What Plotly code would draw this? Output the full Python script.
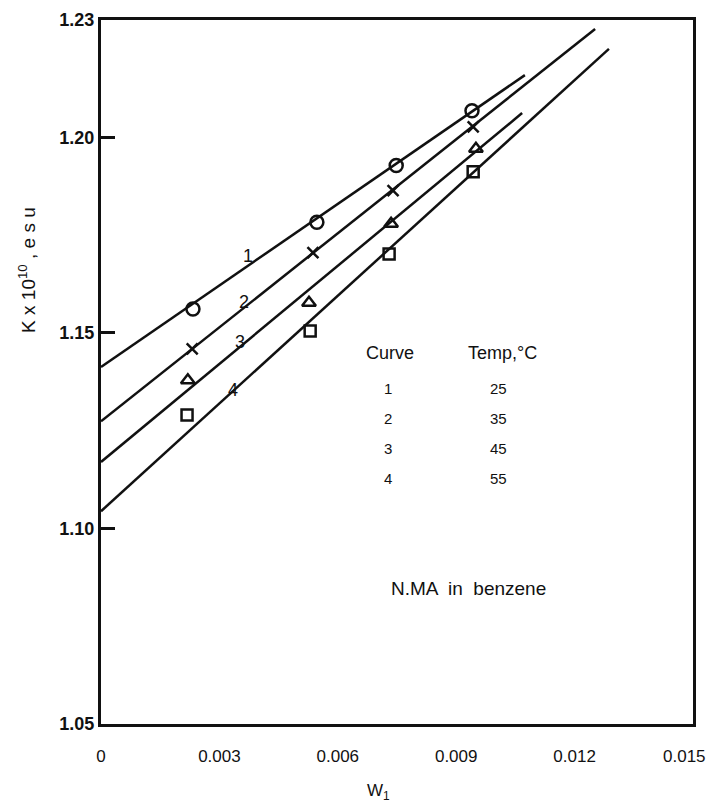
import plotly.graph_objects as go

# Weight fraction of N-methylacetamide (w1) and K x 10^10 (esu) per temperature
w1_c1 = [0.00233, 0.00547, 0.00748, 0.00940]
k_c1 = [1.1561, 1.1783, 1.1928, 1.2068]
w1_c2 = [0.00231, 0.00537, 0.00740, 0.00943]
k_c2 = [1.1459, 1.1705, 1.1864, 1.2027]
w1_c3 = [0.00220, 0.00527, 0.00735, 0.00950]
k_c3 = [1.1379, 1.1577, 1.1779, 1.1971]
w1_c4 = [0.00218, 0.00530, 0.00730, 0.00943]
k_c4 = [1.1290, 1.1505, 1.1702, 1.1912]

# Straight-line fits: value at w1 = 0 and at the end of each drawn line
fit_k0 = [1.1413, 1.1274, 1.1170, 1.1044]
fit_w_end = [0.01074, 0.01252, 0.01067, 0.01287]
fit_k_end = [1.2159, 1.2277, 1.2062, 1.2226]

curve_ids = ["1", "2", "3", "4"]
temps = ["25", "35", "45", "55"]
label_w = [0.00373, 0.00362, 0.00352, 0.00334]
label_k = [1.1696, 1.1580, 1.1477, 1.1354]

x_ticks = [0, 0.003, 0.006, 0.009, 0.012, 0.015]
x_tick_text = ["0", "0.003", "0.006", "0.009", "0.012", "0.015"]
y_ticks = [1.05, 1.10, 1.15, 1.20, 1.23]
y_tick_text = ["<b>1.05</b>", "<b>1.10</b>", "<b>1.15</b>", "<b>1.20</b>", "<b>1.23</b>"]

FONT = "Liberation Sans"
INK = "#111111"

fig = go.Figure()

for k0, we, ke in zip(fit_k0, fit_w_end, fit_k_end):
    fig.add_trace(go.Scatter(x=[0, we], y=[k0, ke], mode="lines",
                             line=dict(color=INK, width=2.5), showlegend=False,
                             hoverinfo="skip"))

series = [
    (w1_c1, k_c1, "circle-open", 13),
    (w1_c2, k_c2, "x-thin-open", 11),
    (w1_c3, k_c3, "triangle-up-open", 12),
    (w1_c4, k_c4, "square-open", 11),
]
for xs, ys, sym, sz in series:
    fig.add_trace(go.Scatter(x=xs, y=ys, mode="markers",
                             marker=dict(symbol=sym, size=sz, color=INK,
                                         line=dict(color=INK, width=2.5)),
                             showlegend=False))

annotations = []
for cid, lx, ly in zip(curve_ids, label_w, label_k):
    annotations.append(dict(x=lx, y=ly, text=cid, showarrow=False,
                            font=dict(family=FONT, size=18, color=INK)))

# Key table: curve number vs temperature
table_top = 1.1449
row_k = [1.1359, 1.1282, 1.1205, 1.1128]
annotations.append(dict(x=0.00732, y=table_top, text="Curve", showarrow=False,
                        font=dict(family=FONT, size=18, color=INK)))
annotations.append(dict(x=0.00925, y=table_top, text="Temp,°C", showarrow=False,
                        xanchor="left", font=dict(family=FONT, size=18, color=INK)))
for cid, t, ry in zip(curve_ids, temps, row_k):
    annotations.append(dict(x=0.00728, y=ry, text=cid, showarrow=False,
                            font=dict(family=FONT, size=15, color=INK)))
    annotations.append(dict(x=0.01006, y=ry, text=t, showarrow=False,
                            font=dict(family=FONT, size=15, color=INK)))

annotations.append(dict(x=0.0093, y=1.0846, text="N.MA  in  benzene", showarrow=False,
                        font=dict(family=FONT, size=19, color=INK)))

# The last x tick label sits at the figure's right edge, so it is drawn
# right-aligned to keep it inside the page.
annotations.append(dict(x=x_ticks[-1], xref="x", yref="paper", y=-0.0455,
                        xanchor="right", yanchor="middle", xshift=15,
                        text=x_tick_text[-1], showarrow=False,
                        font=dict(family=FONT, size=17, color=INK)))
axis_tick_text = x_tick_text[:-1] + [""]

# Axis titles
annotations.append(dict(xref="paper", yref="paper", x=-0.125, y=0.645,
                        xanchor="center", yanchor="middle",
                        text="K x 10<sup>10</sup> , e s u", textangle=-90,
                        showarrow=False, font=dict(family=FONT, size=19, color=INK)))
annotations.append(dict(xref="paper", yref="paper", x=0.468, y=-0.0966,
                        xanchor="center", yanchor="middle",
                        text="W<sub>1</sub>", showarrow=False,
                        font=dict(family=FONT, size=17, color=INK)))

fig.update_layout(
    width=710, height=809,
    margin=dict(l=101, r=17, t=20, b=85),
    paper_bgcolor="white", plot_bgcolor="white",
    annotations=annotations,
    showlegend=False,
)

fig.update_xaxes(range=[0, 0.015], tickvals=x_ticks, ticktext=axis_tick_text,
                 showgrid=False, zeroline=False, showline=True, mirror=True,
                 linecolor=INK, linewidth=2.5, ticks="", ticklabelstandoff=15,
                 automargin=False,
                 tickfont=dict(family=FONT, size=17, color=INK))
fig.update_yaxes(range=[1.05, 1.23], tickvals=y_ticks, ticktext=y_tick_text,
                 showgrid=False, zeroline=False, showline=True, mirror=True,
                 linecolor=INK, linewidth=3, ticks="inside", ticklen=14,
                 tickwidth=2.5, tickcolor=INK, ticklabelstandoff=0,
                 automargin=False,
                 tickfont=dict(family=FONT, size=18, color=INK))

fig.write_html("out.html")
